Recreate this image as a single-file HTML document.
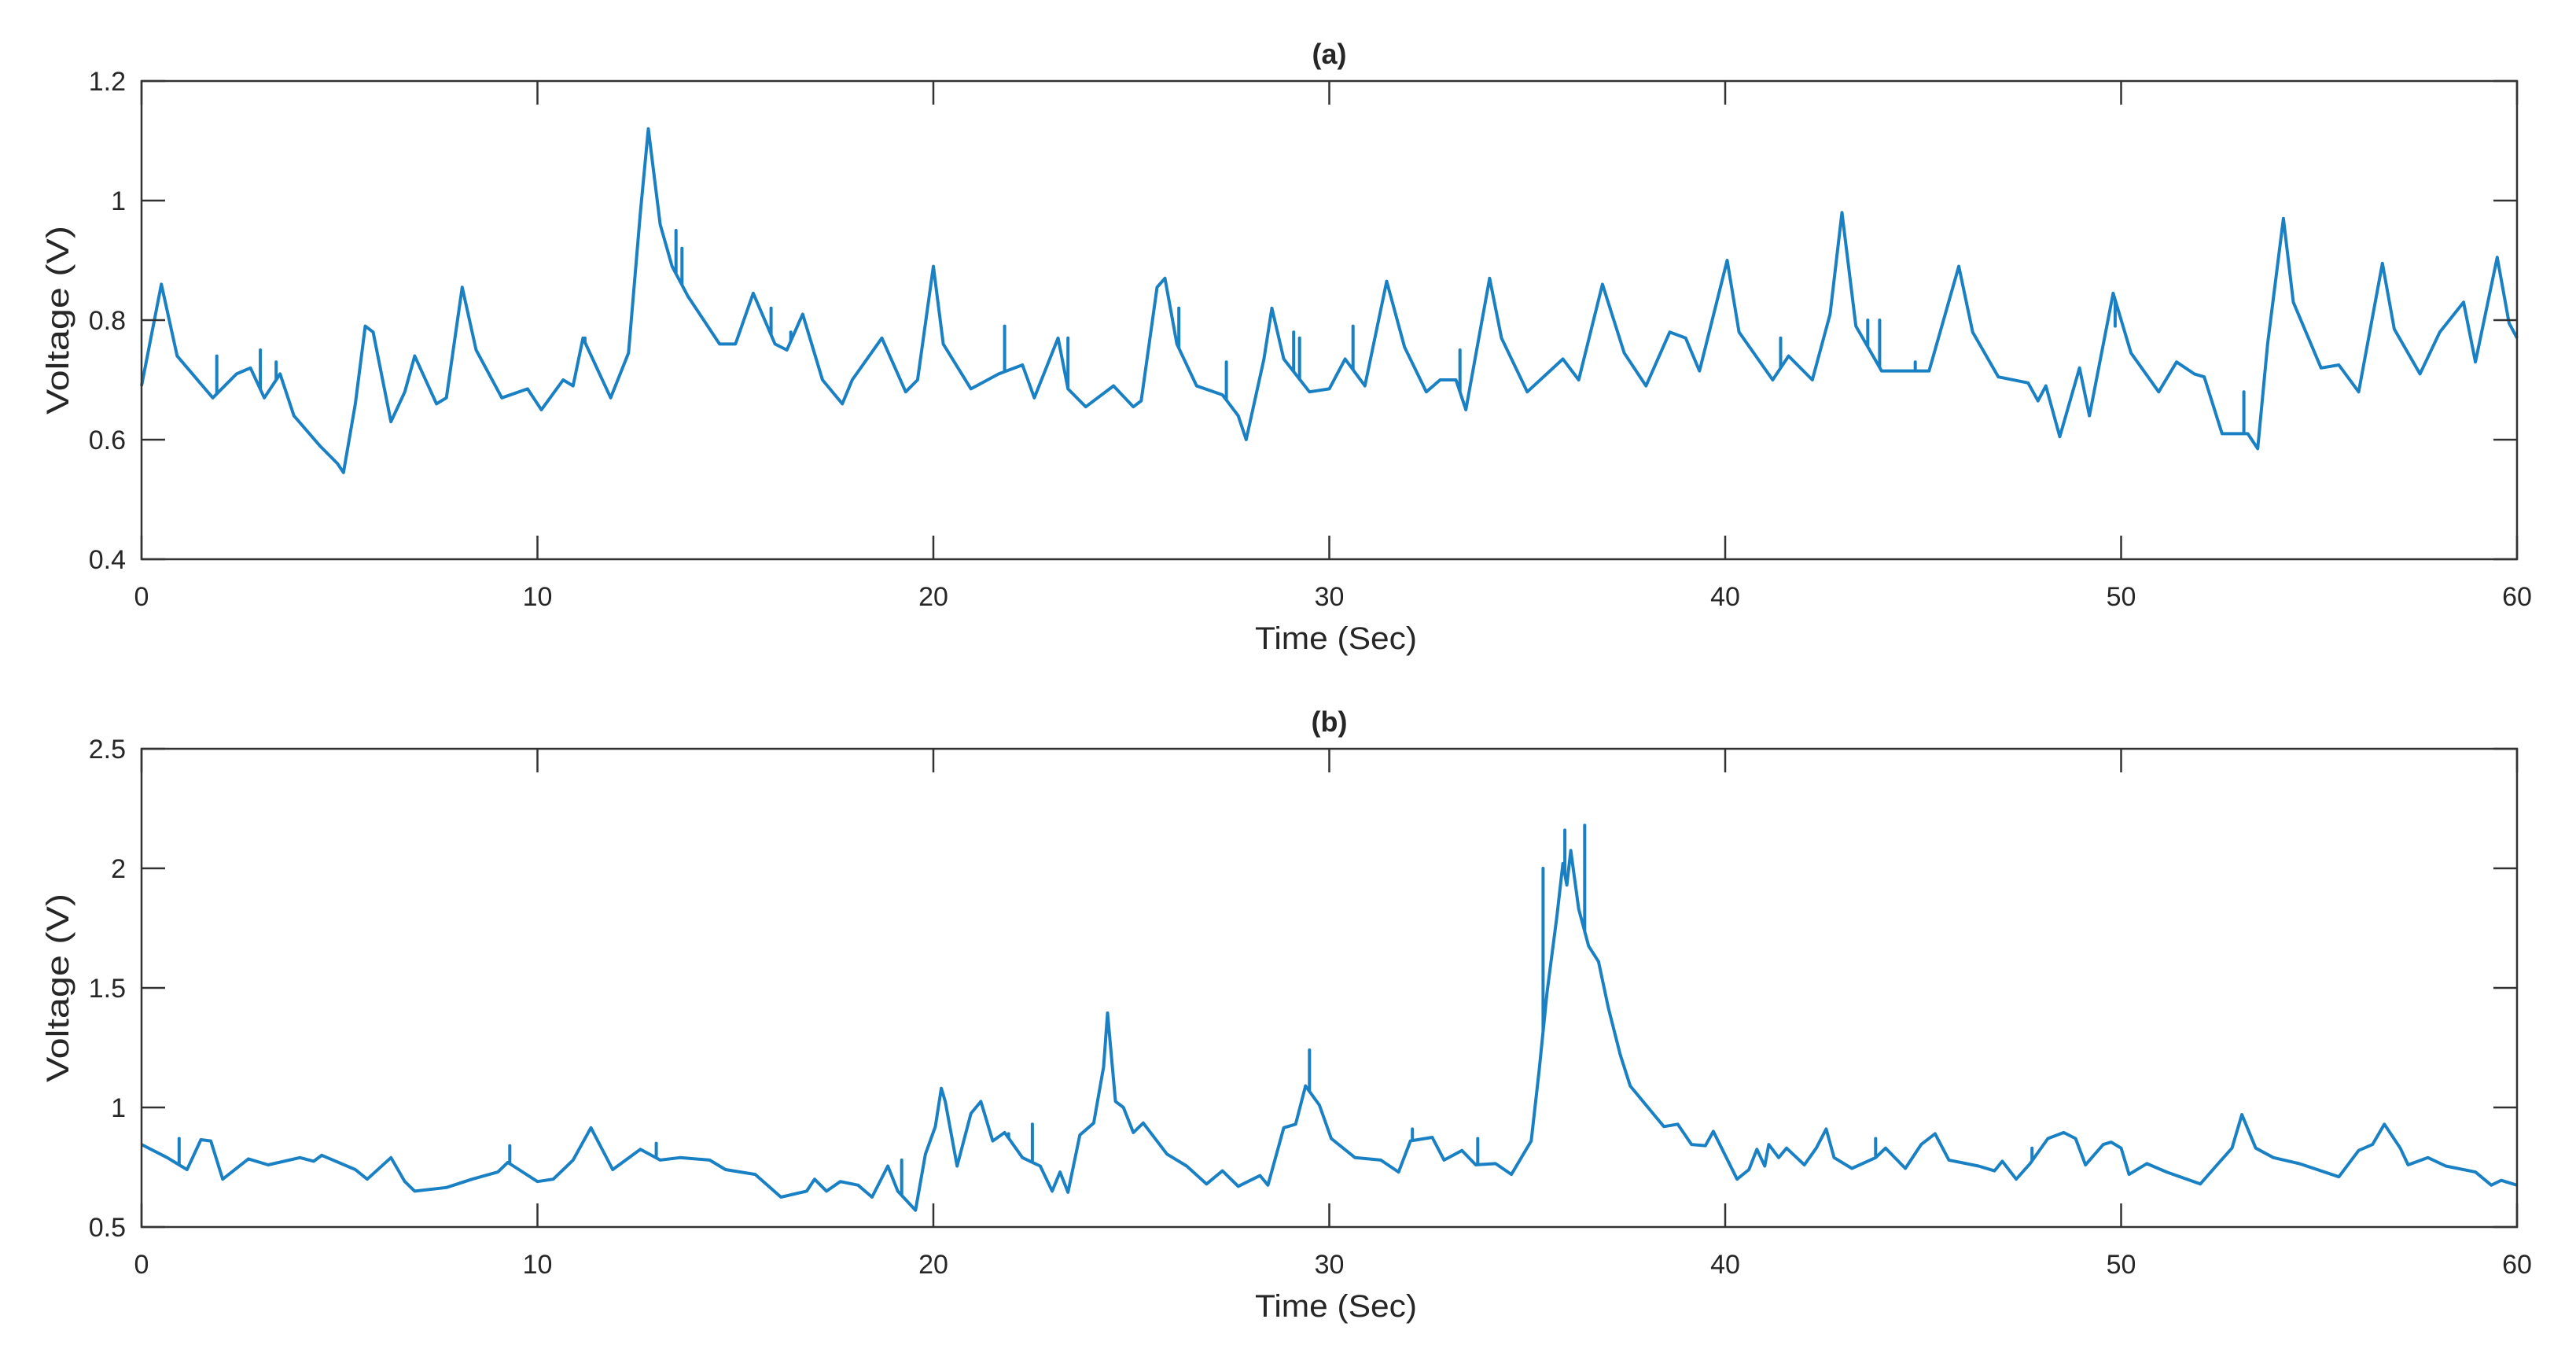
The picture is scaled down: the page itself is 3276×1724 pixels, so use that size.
<!DOCTYPE html>
<html><head><meta charset="utf-8">
<style>
html,body{margin:0;padding:0;background:#fff;}
svg{display:block;}
text{font-family:"Liberation Sans",Arial,sans-serif;fill:#262626;}
</style></head>
<body>
<svg id="fig" width="3276" height="1724" viewBox="0 0 3276 1724" xmlns="http://www.w3.org/2000/svg">
<rect x="0" y="0" width="3276" height="1724" fill="#fff"/>
</svg>
<script>
// ---- Panel (a) data ----
const aTimes = [0,0.5,0.9,1.8,2.4,2.75,3.1,3.5,3.85,4.5,4.95,5.1,5.4,5.65,5.85,6.3,6.65,6.9,7.45,7.7,8.1,8.45,9.1,9.75,10.1,10.65,10.9,11.15,11.85,12.3,12.6,12.8,13.1,13.4,13.8,14.6,15.0,15.45,16.0,16.3,16.7,17.2,17.7,17.95,18.7,19.3,19.6,20.0,20.25,20.95,21.65,22.25,22.55,23.15,23.4,23.85,24.55,25.05,25.25,25.65,25.85,26.15,26.65,27.3,27.7,27.9,28.35,28.55,28.85,29.5,30.0,30.4,30.9,31.45,31.9,32.45,32.8,33.2,33.45,34.05,34.35,35.0,35.9,36.3,36.9,37.45,38.0,38.6,39.0,39.35,40.05,40.35,41.2,41.6,42.2,42.65,42.95,43.3,43.95,44.6,45.15,45.9,46.25,46.9,47.65,47.9,48.1,48.45,48.95,49.2,49.8,50.25,50.95,51.4,51.85,52.1,52.55,53.2,53.45,53.7,54.1,54.35,55.05,55.5,56.0,56.6,56.9,57.55,58.05,58.65,58.95,59.5,59.8,60.0];
const aValues = [0.69,0.86,0.74,0.67,0.71,0.72,0.67,0.71,0.64,0.59,0.56,0.545,0.66,0.79,0.78,0.63,0.68,0.74,0.66,0.67,0.855,0.75,0.67,0.685,0.65,0.70,0.69,0.77,0.67,0.745,0.98,1.12,0.96,0.89,0.84,0.76,0.76,0.845,0.76,0.75,0.81,0.70,0.66,0.70,0.77,0.68,0.70,0.89,0.76,0.685,0.71,0.725,0.67,0.77,0.685,0.655,0.69,0.655,0.665,0.855,0.87,0.76,0.69,0.675,0.64,0.60,0.735,0.82,0.735,0.68,0.685,0.735,0.69,0.865,0.755,0.68,0.70,0.70,0.65,0.87,0.77,0.68,0.735,0.70,0.86,0.745,0.69,0.78,0.77,0.715,0.90,0.78,0.70,0.74,0.70,0.81,0.98,0.79,0.715,0.715,0.715,0.89,0.78,0.705,0.695,0.665,0.69,0.605,0.72,0.64,0.845,0.745,0.68,0.73,0.71,0.705,0.61,0.61,0.585,0.76,0.97,0.83,0.72,0.725,0.68,0.895,0.785,0.71,0.78,0.83,0.73,0.905,0.795,0.77];
const aSpikeTimes = [1.9,3.0,3.4,11.2,13.5,13.65,15.9,16.4,21.8,23.4,26.2,27.4,29.1,29.25,30.6,33.3,41.4,43.6,43.9,44.8,49.85,53.1];
const aSpikeValues = [0.74,0.75,0.73,0.77,0.95,0.92,0.82,0.78,0.79,0.77,0.82,0.73,0.78,0.77,0.79,0.75,0.77,0.80,0.80,0.73,0.79,0.68];
const aYTicks = [0.4,0.6,0.8,1,1.2];
const aYTickLabels = ["0.4","0.6","0.8","1","1.2"];
// ---- Panel (b) data ----
const bTimes = [0,0.65,1.15,1.5,1.75,2.05,2.7,3.2,4.0,4.35,4.55,5.4,5.7,6.3,6.65,6.9,7.7,8.35,9.0,9.25,10.0,10.4,10.9,11.35,11.9,12.6,13.1,13.6,14.35,14.75,15.5,16.15,16.8,17.0,17.3,17.65,18.1,18.45,18.85,19.1,19.55,19.8,20.05,20.2,20.3,20.6,20.95,21.2,21.5,21.8,22.25,22.7,23.0,23.2,23.4,23.7,24.05,24.3,24.4,24.6,24.8,25.05,25.3,25.9,26.4,26.9,27.3,27.7,28.25,28.45,28.85,29.15,29.4,29.75,30.05,30.65,31.3,31.75,32.05,32.6,32.9,33.35,33.7,34.2,34.6,35.1,35.3,35.5,35.75,35.9,36.0,36.1,36.3,36.55,36.8,37.05,37.35,37.6,38.1,38.45,38.8,39.15,39.5,39.7,40.0,40.3,40.6,40.8,41.0,41.1,41.35,41.55,42.0,42.3,42.55,42.75,43.2,43.8,44.05,44.55,44.95,45.3,45.65,46.4,46.8,47.0,47.35,47.7,48.15,48.55,48.85,49.1,49.55,49.75,50.0,50.2,50.65,51.15,52.0,52.45,52.8,53.05,53.4,53.85,54.5,55.5,56.0,56.35,56.65,57.05,57.25,57.75,58.2,58.95,59.35,59.6,60.0];
const bValues = [0.845,0.79,0.74,0.865,0.86,0.70,0.785,0.76,0.79,0.775,0.80,0.74,0.70,0.79,0.69,0.65,0.665,0.70,0.73,0.77,0.69,0.70,0.78,0.915,0.74,0.825,0.78,0.79,0.78,0.74,0.72,0.625,0.65,0.70,0.65,0.69,0.675,0.625,0.755,0.65,0.57,0.805,0.92,1.08,1.025,0.755,0.975,1.025,0.86,0.895,0.79,0.755,0.65,0.73,0.645,0.885,0.935,1.17,1.395,1.025,1.0,0.895,0.935,0.805,0.755,0.68,0.735,0.67,0.715,0.675,0.915,0.93,1.09,1.01,0.87,0.79,0.78,0.73,0.86,0.875,0.78,0.82,0.76,0.765,0.72,0.86,1.155,1.48,1.80,2.02,1.93,2.075,1.83,1.675,1.61,1.415,1.22,1.09,0.99,0.92,0.93,0.845,0.84,0.90,0.80,0.70,0.74,0.825,0.755,0.845,0.79,0.83,0.76,0.83,0.91,0.79,0.745,0.79,0.83,0.745,0.845,0.89,0.78,0.755,0.735,0.775,0.70,0.765,0.87,0.895,0.87,0.76,0.845,0.855,0.83,0.72,0.765,0.73,0.68,0.765,0.83,0.97,0.83,0.79,0.765,0.71,0.82,0.845,0.93,0.83,0.76,0.79,0.755,0.73,0.675,0.695,0.675];
const bSpikeTimes = [0.95,9.3,13.0,19.2,21.9,22.5,29.5,32.1,33.75,35.4,35.95,36.45,43.8,47.75];
const bSpikeValues = [0.87,0.84,0.85,0.78,0.89,0.93,1.24,0.91,0.87,2.0,2.16,2.18,0.87,0.83];
const bYTicks = [0.5,1,1.5,2,2.5];
const bYTickLabels = ["0.5","1","1.5","2","2.5"];
// ---- shared x axis ----
const xTicks = [0,10,20,30,40,50,60];
const xTickLabels = ["0","10","20","30","40","50","60"];

const NS = "http://www.w3.org/2000/svg";
const svg = document.getElementById('fig');
const X0 = 180, X1 = 3201;
function xScale(t){ return X0 + (t/60)*(X1-X0); }
function mk(tag, attrs, parent){
  const e = document.createElementNS(NS, tag);
  for (const k in attrs) e.setAttribute(k, attrs[k]);
  (parent||svg).appendChild(e);
  return e;
}
function interp(ts, vs, t){
  for (let i=1;i<ts.length;i++){ if (t<=ts[i]){ const f=(t-ts[i-1])/(ts[i]-ts[i-1]); return vs[i-1]+f*(vs[i]-vs[i-1]); } }
  return vs[vs.length-1];
}
function panel(key, top, bottom, ymin, ymax, yTicks, yLabels, times, vals, spT, spV, title){
  const g = mk('g', {});
  
  
  const yScale = v => bottom - (v - ymin)/(ymax - ymin)*(bottom - top);
  const pts = [];
  for (let i=0;i<times.length;i++) pts.push({t:times[i], v:vals[i], s:false});
  for (let i=0;i<spT.length;i++) pts.push({t:spT[i], v:spV[i], s:true});
  pts.sort((a,b)=>a.t-b.t);
  let d = '';
  pts.forEach((p,i)=>{
    const x = xScale(p.t).toFixed(1);
    if (p.s){
      const base = yScale(interp(times, vals, p.t)).toFixed(1);
      d += 'L'+x+','+base+'L'+x+','+yScale(p.v).toFixed(1)+'L'+x+','+base;
    } else {
      d += (i===0?'M':'L')+x+','+yScale(p.v).toFixed(1);
    }
  });
  const line = mk('path', {d:d, fill:'none', stroke:'#0072BD', 'stroke-opacity':0.9, 'stroke-width':4, 'stroke-linejoin':'round'}, g);
  
  
  const fr = mk('rect', {x:X0, y:top, width:X1-X0, height:bottom-top, fill:'none', stroke:'#333', 'stroke-width':2.5}, g);
  
  
  yTicks.forEach((v,i)=>{
    const y = yScale(v);
    mk('line', {x1:X0, x2:X0+30, y1:y, y2:y, stroke:'#333', 'stroke-width':2.5}, g);
    mk('line', {x1:X1-30, x2:X1, y1:y, y2:y, stroke:'#333', 'stroke-width':2.5}, g);
    const tx = mk('text', {x:160, y:y+12, 'text-anchor':'end', 'font-size':34}, g);
    
    
    tx.textContent = yLabels[i];
  });
  xTicks.forEach((t,i)=>{
    const x = xScale(t);
    mk('line', {x1:x, x2:x, y1:bottom, y2:bottom-30, stroke:'#333', 'stroke-width':2.5}, g);
    mk('line', {x1:x, x2:x, y1:top, y2:top+30, stroke:'#333', 'stroke-width':2.5}, g);
    const tx = mk('text', {x:x, y:bottom+59, 'text-anchor':'middle', 'font-size':34}, g);
    
    
    tx.textContent = xTickLabels[i];
  });
  const tt = mk('text', {x:(X0+X1)/2, y:top-22, 'text-anchor':'middle', 'font-size':36, 'font-weight':'bold', fill:'#000'}, g);
  
  
  tt.textContent = title;
  const xl = mk('text', {x:1699, y:bottom+114, 'text-anchor':'middle', 'font-size':40, textLength:206, lengthAdjust:'spacingAndGlyphs'}, g);
  
  
  xl.textContent = 'Time (Sec)';
  const cy = (top+bottom)/2;
  const yl = mk('text', {x:0, y:0, 'text-anchor':'middle', 'font-size':40, textLength:240, lengthAdjust:'spacingAndGlyphs', transform:'translate(87,'+cy+') rotate(-90)'}, g);
  
  
  yl.textContent = 'Voltage (V)';
}
panel('a', 103, 711, 0.4, 1.2, aYTicks, aYTickLabels, aTimes, aValues, aSpikeTimes, aSpikeValues, '(a)');
panel('b', 952, 1560, 0.5, 2.5, bYTicks, bYTickLabels, bTimes, bValues, bSpikeTimes, bSpikeValues, '(b)');
</script>
</body></html>
